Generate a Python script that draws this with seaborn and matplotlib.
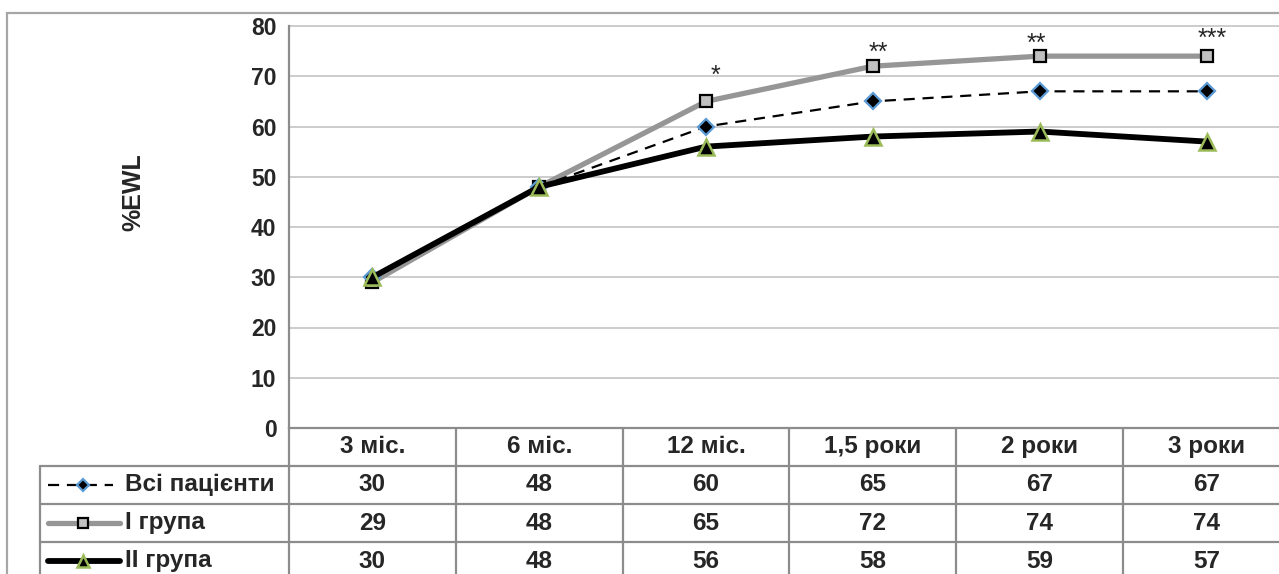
import matplotlib
matplotlib.use("Agg")
import matplotlib.pyplot as plt
from matplotlib.patches import Rectangle
import numpy as np
import pandas as pd
import seaborn as sns

categories = ["3 міс.", "6 міс.", "12 міс.", "1,5 роки", "2 роки", "3 роки"]
all_patients = [30, 48, 60, 65, 67, 67]
group_1 = [29, 48, 65, 72, 74, 74]
group_2 = [30, 48, 56, 58, 59, 57]
series_names = ["Всі пацієнти", "I група", "II група"]
stars = ["", "", "*", "**", "**", "***"]

W, H = 1279, 574
DPI = 100

sns.set_theme(style="white")
plt.rcParams["font.family"] = ["Liberation Sans", "DejaVu Sans"]
plt.rcParams["font.weight"] = "bold"

fig = plt.figure(figsize=(W / DPI, H / DPI), dpi=DPI)

# pixel layout of the Excel chart
x_left_px, x_right_px = 289, 1290
y_top_px, y_zero_px = 26, 428
col_px = (x_right_px - x_left_px) / len(categories)
row_px = 38
legend_left_px = 40
table_fs = 17.5

grey_frame = "#8c8c8c"
grid_col = "#c8c8c8"

ax = fig.add_axes([x_left_px / W, 1 - y_zero_px / H,
                   (x_right_px - x_left_px) / W, (y_zero_px - y_top_px) / H])

x = np.arange(len(categories))
df = pd.DataFrame({"x": x, "all": all_patients, "g1": group_1, "g2": group_2})

style_all = dict(color="black", lw=1.6, dashes=(5, 3.5), marker="D", markersize=8,
                 markerfacecolor="black", markeredgecolor="#5b9bd5", markeredgewidth=1.6)
style_g1 = dict(color="#969696", lw=3.8, marker="s", markersize=9,
                markerfacecolor="#c0c0c0", markeredgecolor="black", markeredgewidth=1.6)
style_g2 = dict(color="black", lw=4.2, marker="^", markersize=11,
                markerfacecolor="black", markeredgecolor="#9bbb59", markeredgewidth=1.8)

sns.lineplot(data=df, x="x", y="g1", ax=ax, sort=False, zorder=3, **style_g1)
sns.lineplot(data=df, x="x", y="all", ax=ax, sort=False, zorder=4, **style_all)
sns.lineplot(data=df, x="x", y="g2", ax=ax, sort=False, zorder=5, **style_g2)

# significance marks above group I
star_offsets = [(0, 0), (0, 0), (9, 19), (5, 6), (-3, 5), (6, 10)]
for i, s in enumerate(stars):
    if s:
        ax.annotate(s, (x[i], group_1[i]), xytext=star_offsets[i], textcoords="offset pixels",
                    ha="center", va="baseline", fontsize=18, fontweight="normal")

ax.set_xlim(-0.5, len(categories) - 0.5)
ax.set_ylim(0, 80)
ax.set_yticks(range(0, 81, 10))
ax.set_xticks([])
ax.set_xlabel("")
ax.set_ylabel("")
for v in range(10, 81, 10):
    ax.axhline(v, color=grid_col, lw=1.3, zorder=1, clip_on=False)
for side in ["top", "right"]:
    ax.spines[side].set_visible(False)
for side in ["left", "bottom"]:
    ax.spines[side].set_color(grey_frame)
    ax.spines[side].set_linewidth(1.6)
ax.tick_params(axis="y", length=5, width=1.3, color=grey_frame, pad=4,
               labelsize=16.5)
for lab in ax.get_yticklabels():
    lab.set_fontweight("bold")

fig.text(133 / W, 1 - 192 / H, "%EWL", rotation=90, ha="center", va="center",
         fontsize=18, fontweight="bold")

# data table underneath
n_rows = len(series_names) + 1
tab_bottom_px = y_zero_px + n_rows * row_px
tax = fig.add_axes([legend_left_px / W, 1 - tab_bottom_px / H,
                    (x_right_px - legend_left_px) / W, n_rows * row_px / H])
u0 = -0.5 - (x_left_px - legend_left_px) / col_px
tax.set_xlim(u0, len(categories) - 0.5)
tax.set_ylim(n_rows, 0)
tax.axis("off")


def px2u(px):
    return -0.5 + (px - x_left_px) / col_px


line_kw = dict(color=grey_frame, lw=1.6, clip_on=False)
for r in range(1, n_rows):
    tax.plot([u0, len(categories) - 0.5], [r, r], **line_kw)
for k in range(len(categories) + 1):
    tax.plot([k - 0.5, k - 0.5], [0, n_rows], **line_kw)
tax.plot([u0, u0], [1, n_rows], **line_kw)

for i, c in enumerate(categories):
    tax.text(i, 0.5, c, ha="center", va="center", fontsize=table_fs, fontweight="bold")

rows = [all_patients, group_1, group_2]
styles = [style_all, style_g1, style_g2]
for r, (name, vals, st) in enumerate(zip(series_names, rows, styles)):
    yy = r + 1.5
    for i, v in enumerate(vals):
        tax.text(i, yy, f"{v}", ha="center", va="center", fontsize=table_fs, fontweight="bold")
    end_px = 113 if r == 0 else 120
    kst = {k: v for k, v in st.items() if not k.startswith("marker")}
    tax.plot([px2u(48), px2u(end_px)], [yy, yy], clip_on=False, solid_capstyle="round", **kst)
    mk = {k: v for k, v in st.items() if k.startswith("marker")}
    mk["markersize"] = mk["markersize"] * 0.8
    tax.plot([px2u(83)], [yy], ls="none", clip_on=False, **mk)
    tax.text(px2u(125), yy, name, ha="left", va="center", fontsize=table_fs, fontweight="bold")

# outer chart frame
fig.patches.append(Rectangle((7 / W, -0.1), 1.2, 1 - 13 / H + 0.1, transform=fig.transFigure,
                             fill=False, edgecolor="#a6a6a6", lw=1.6))

fig.savefig("out.png", dpi=DPI)
